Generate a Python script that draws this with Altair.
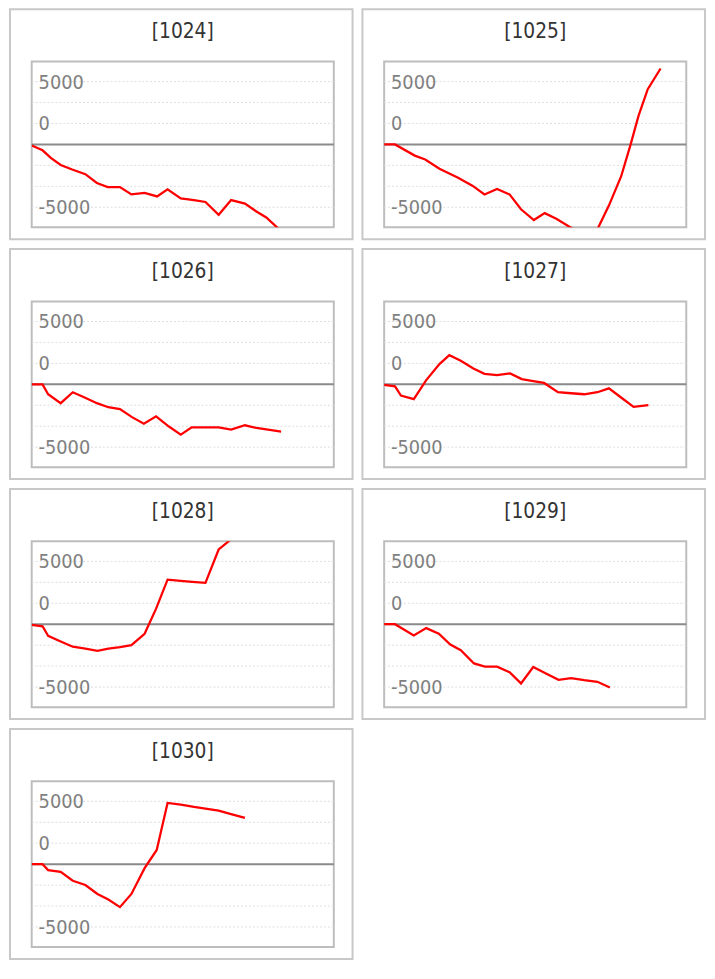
import altair as alt
import pandas as pd

panels = ["1024", "1025", "1026", "1027", "1028", "1029", "1030"]

x_1024 = [0, 0.88, 1.55, 2.35, 3.28, 4.35, 5.28, 6.16, 7.15, 8.08, 9.15, 10.16, 11.01, 12.08, 13.15, 14.08, 15.15, 16.16, 17.28, 18.21, 19.01, 20.21, 21.33]
y_1024 = [-80, -470, -1070, -1640, -2000, -2370, -3070, -3390, -3390, -3980, -3850, -4140, -3570, -4300, -4430, -4580, -5600, -4430, -4710, -5340, -5810, -6900, -7400]

x_1025 = [0, 0.88, 2.48, 3.33, 4.48, 5.95, 7.15, 8.13, 9.15, 10.16, 11.09, 12.13, 13.01, 13.95, 15.01, 16.03, 17.01, 18.21, 19.2, 19.95, 20.61, 21.36, 22.4]
y_1025 = [0, 0, -890, -1200, -1930, -2630, -3280, -3980, -3540, -3980, -5160, -6020, -5470, -5910, -6550, -7100, -7300, -4870, -2550, -80, 2270, 4400, 6040]

x_1026 = [0, 0.88, 1.33, 2.35, 3.33, 4.29, 5.28, 6.21, 7.15, 8.13, 9.09, 10.08, 11.09, 12.08, 12.96, 14.21, 15.15, 16.16, 17.28, 18.21, 19.28, 20.21]
y_1026 = [0, 0, -790, -1500, -630, -1050, -1500, -1820, -1970, -2610, -3130, -2550, -3340, -4000, -3420, -3420, -3420, -3610, -3260, -3470, -3630, -3760]

x_1027 = [0, 0.88, 1.36, 2.4, 3.41, 4.48, 5.28, 6.21, 7.23, 8.13, 9.15, 10.21, 11.15, 12.08, 12.96, 14.08, 15.15, 16.21, 17.28, 18.21, 19.28, 20.21, 21.41]
y_1027 = [-50, -160, -900, -1180, 340, 1610, 2320, 1870, 1260, 840, 740, 870, 420, 260, 110, -630, -710, -790, -630, -320, -1110, -1790, -1660]

x_1028 = [0, 0.88, 1.33, 2.35, 3.33, 4.35, 5.33, 6.21, 7.15, 8.08, 9.15, 10.08, 11.01, 12.08, 13.01, 14.08, 15.15, 16.08, 17.07]
y_1028 = [-50, -160, -920, -1370, -1790, -1950, -2110, -1950, -1820, -1660, -760, 1240, 3550, 3450, 3370, 3290, 5950, 6700, 7300]

x_1029 = [0, 0.88, 2.4, 3.41, 4.43, 5.36, 6.21, 7.28, 8.16, 9.15, 10.16, 11.09, 12.08, 13.07, 14.13, 15.15, 16.21, 17.28, 18.29]
y_1029 = [0, 0, -890, -310, -760, -1620, -2070, -3120, -3380, -3380, -3820, -4710, -3400, -3900, -4420, -4290, -4450, -4580, -5030]

x_1030 = [0, 0.88, 1.33, 2.35, 3.33, 4.35, 5.33, 6.21, 7.15, 8.08, 9.15, 10.13, 11.01, 12.08, 13.15, 14.21, 15.15, 16.08, 17.28]
y_1030 = [0, 0, -470, -610, -1320, -1660, -2370, -2820, -3420, -2370, -320, 1130, 4870, 4740, 4550, 4400, 4260, 4000, 3680]

series = {
    "1024": (x_1024, y_1024),
    "1025": (x_1025, y_1025),
    "1026": (x_1026, y_1026),
    "1027": (x_1027, y_1027),
    "1028": (x_1028, y_1028),
    "1029": (x_1029, y_1029),
    "1030": (x_1030, y_1030),
}

grid_values = [5000, 3333, 1667, -1667, -3333, -5000]
zero_value = [0]
label_values = [5000, 1667, -5000]
label_texts = ["5000", "0", "-5000"]

x_domain = [0, 24.48]
y_domain = [-6600, 6600]

W, H = 306, 168
FONT = "'DejaVu Sans Condensed', 'DejaVu Sans', sans-serif"

grid_df = pd.DataFrame({"v": grid_values})
zero_df = pd.DataFrame({"v": zero_value})
lab_df = pd.DataFrame({"v": label_values, "t": label_texts})
one_df = pd.DataFrame({"a": [0]})

yscale = alt.Scale(domain=y_domain, nice=False, zero=False)
xscale = alt.Scale(domain=x_domain, nice=False, zero=False)


def panel_chart(p):
    xs, ys = series[p]
    df = pd.DataFrame({"i": list(range(len(xs))), "x": xs, "y": ys})
    frame = alt.Chart(one_df).mark_rect(
        fillOpacity=0, stroke="#c8c8c8", strokeWidth=2
    ).encode(x=alt.value(-22), x2=alt.value(325), y=alt.value(-53), y2=alt.value(180))
    grid = alt.Chart(grid_df).mark_rule(
        color="#dcdcdc", strokeDash=[2, 2], strokeWidth=1
    ).encode(y=alt.Y("v:Q", scale=yscale, axis=None))
    zero = alt.Chart(zero_df).mark_rule(color="#8a8a8a", strokeWidth=2).encode(
        y=alt.Y("v:Q", scale=yscale, axis=None)
    )
    labels = alt.Chart(lab_df).mark_text(
        align="left", baseline="middle", dy=1, fontSize=20, color="#808080", font=FONT
    ).encode(x=alt.value(7), y=alt.Y("v:Q", scale=yscale, axis=None), text="t:N")
    line = alt.Chart(df).mark_line(color="#ff0000", strokeWidth=2.3, clip=True).encode(
        x=alt.X("x:Q", scale=xscale, axis=None),
        y=alt.Y("y:Q", scale=yscale, axis=None),
        order="i:Q",
    )
    title = alt.Chart(pd.DataFrame({"t": [f"[{p}]"]})).mark_text(
        fontSize=21, color="#333333", font=FONT, baseline="middle", align="center"
    ).encode(x=alt.value(W / 2), y=alt.value(-30), text="t:N")
    return alt.layer(frame, grid, zero, labels, line, title).properties(width=W, height=H)


chart = (
    alt.concat(*[panel_chart(p) for p in panels], columns=2, spacing=6)
    .properties(padding={"top": -7, "left": 0, "right": 0, "bottom": 0}, background="white")
    .configure_view(stroke="#bdbdbd", strokeWidth=2)
)

chart.save("out.html", embed_options={"renderer": "svg", "actions": False})
